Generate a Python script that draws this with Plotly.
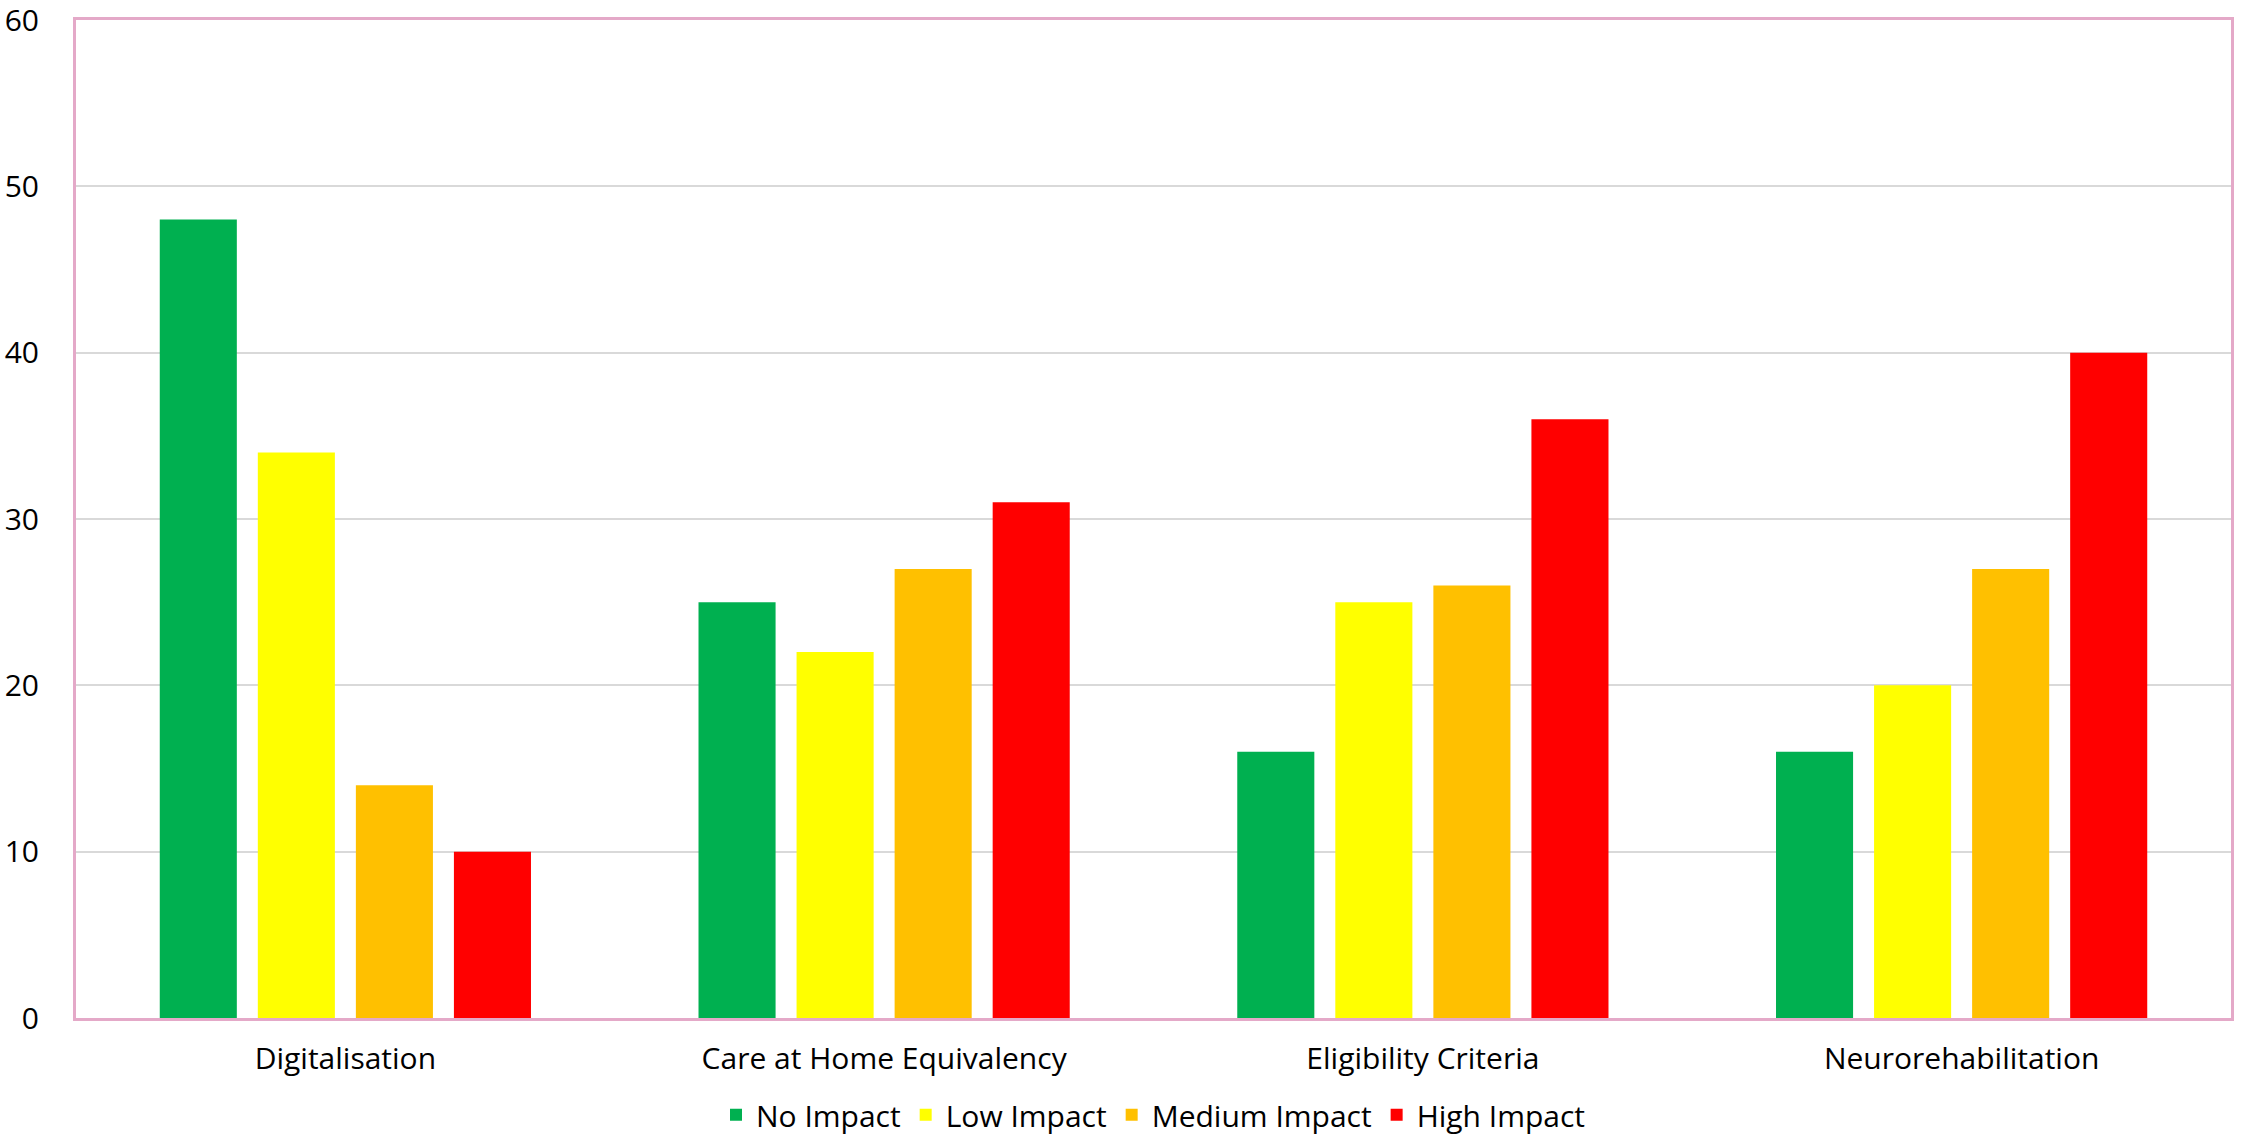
import plotly.graph_objects as go

categories = ["Digitalisation", "Care at Home Equivalency", "Eligibility Criteria", "Neurorehabilitation"]
series_names = ["No Impact", "Low Impact", "Medium Impact", "High Impact"]
no_impact = [48, 25, 16, 16]
low_impact = [34, 22, 25, 20]
medium_impact = [14, 27, 26, 27]
high_impact = [10, 31, 36, 40]
colors = ["#00B050", "#FFFF00", "#FFC000", "#FF0000"]
y_ticks = [0, 10, 20, 30, 40, 50, 60]

FONT = "Open Sans, Liberation Sans, Arial, sans-serif"

fig = go.Figure()
for name, vals, col in zip(series_names, [no_impact, low_impact, medium_impact, high_impact], colors):
    fig.add_trace(go.Bar(x=categories, y=vals, name=name, marker=dict(color=col, line=dict(width=0))))

fig.update_layout(
    width=2247, height=1138,
    margin=dict(l=76, r=16, t=20, b=120, autoexpand=False),
    paper_bgcolor="white", plot_bgcolor="white",
    barmode="group", bargap=0.272, bargroupgap=0.214,
    font=dict(family=FONT, size=30, color="black"),
    showlegend=True,
    legend=dict(orientation="h", x=0.5, xanchor="center", y=-0.097, yanchor="middle",
                font=dict(family=FONT, size=30, color="black"), itemwidth=30,
                borderwidth=0, bgcolor="rgba(0,0,0,0)"),
)
fig.update_xaxes(
    automargin=False,
    showline=True, mirror=True, linecolor="#E4A9C8", linewidth=3,
    showgrid=False, ticks="outside", ticklen=12, tickcolor="rgba(0,0,0,0)",
    tickfont=dict(family=FONT, size=30, color="black"),
)
fig.update_yaxes(
    automargin=False, ticklabeloverflow="allow",
    range=[0, 60], tickvals=y_ticks,
    showline=True, mirror=True, linecolor="#E4A9C8", linewidth=3,
    showgrid=True, gridcolor="#D9D9D9", gridwidth=2, zeroline=False,
    ticks="outside", ticklen=28, tickcolor="rgba(0,0,0,0)",
    tickfont=dict(family=FONT, size=30, color="black"),
)

fig.write_html("out.html", config={"displayModeBar": False},
               post_script="document.body.style.margin='0';")
